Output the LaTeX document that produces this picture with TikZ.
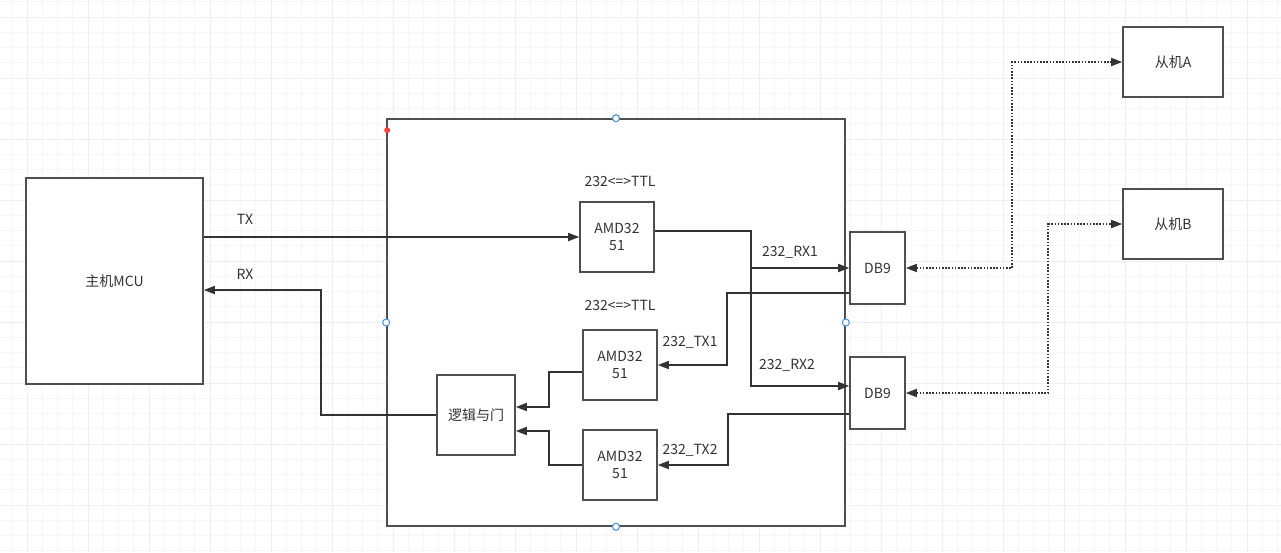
\documentclass[tikz,border=0pt]{standalone}
\usepackage{fontspec}
\setmainfont{Noto Sans CJK SC}
\usetikzlibrary{arrows.meta}
\definecolor{linec}{HTML}{333333}
\definecolor{boxc}{HTML}{4D4F53}
\definecolor{gridmin}{HTML}{F7F7F7}
\definecolor{gridmaj}{HTML}{EEEEEE}
\definecolor{handle}{HTML}{3B8FE8}
\tikzset{
  blk/.style = {rectangle, draw=boxc, fill=white, line width=1.6pt,
    inner sep=0pt, align=center, text=linec},% ordinary block
  blk_amd/.style = {blk, minimum width=74pt, minimum height=70pt},% AMD3251 chip
  blk_db/.style = {blk, minimum width=55pt, minimum height=72pt},% DB9 socket
  blk_sl/.style = {blk, minimum width=100pt, minimum height=70pt},% slave
  lbl/.style = {inner sep=0pt, text=linec},% wire label
  wire/.style = {draw=linec, line width=1.7pt, ->},% signal line
  link/.style = {wire, <->, dash pattern=on 1.6pt off 1.6pt},% cable
  gridlin/.style = {draw=gridmin, line width=1pt},
  gridlaj/.style = {draw=gridmaj, line width=1pt},
  hdl/.style = {draw=handle, fill=white, line width=1pt}
}

\begin{document}
\begin{tikzpicture}[x=1pt, y=-1pt, >={Triangle[length=11pt,width=8pt]},
  font=\fontsize{14}{17}\selectfont]
\useasboundingbox (0,0) rectangle (1281,552);
\fill[white] (0,0) rectangle (1281,552);
% background grid
\foreach \i in {0,...,83} \draw[gridlin] ({11.75+15.25*\i},0) -- ({11.75+15.25*\i},552);
\foreach \i in {0,...,36} \draw[gridlin] (0,{1.75+15.25*\i}) -- (1281,{1.75+15.25*\i});
\foreach \i in {0,...,20} \draw[gridlaj] ({27+61*\i},0) -- ({27+61*\i},552);
\foreach \i in {0,...,8} \draw[gridlaj] (0,{17+61*\i}) -- (1281,{17+61*\i});

\node [blk, minimum width=458pt, minimum height=407pt] (board) at (616,322.5) {};
\node [blk, minimum width=177pt, minimum height=206pt] (mcu) at (114.5,281) {主机MCU};
\node [blk_amd] (amdA) at (617,237) {AMD32\\51};
\node [blk_amd] (amdB) at (620,365) {AMD32\\51};
\node [blk_amd] (amdC) at (620,465) {AMD32\\51};
\node [blk, minimum width=78pt, minimum height=80pt] (gate) at (476,415) {逻辑与门};
\node [blk_db] (dbA) at (877.5,268) {DB9};
\node [blk_db] (dbB) at (877.5,393) {DB9};
\node [blk_sl] (slaveA) at (1173,62) {从机A};
\node [blk_sl] (slaveB) at (1173,224) {从机B};

\node [lbl] (ttlA) at (620,181) {232<=>TTL};
\node [lbl] (ttlB) at (620,305) {232<=>TTL};

% host side
\draw [wire] (amdA.west -| mcu.east) -- (amdA.west);
\draw [wire] (gate.west) -| ([xshift=117pt,yshift=-9pt]mcu.east) -- ([yshift=-9pt]mcu.east);
\node [lbl] (lbtx) at (245,219) {TX};
\node [lbl] (lbrx) at (245,274) {RX};

% receive lines
\draw [wire] ([yshift=6pt]amdA.east) -| ([xshift=-98pt]dbA.west) -- (dbA.west);
\draw [wire] ([yshift=6pt]amdA.east) -| ([xshift=-98pt,yshift=7pt]dbB.west) -- ([yshift=7pt]dbB.west);
\node [lbl] (lbrxa) at (790,252) {232\_RX1};
\node [lbl] (lbrxb) at (787,365) {232\_RX2};

% transmit lines
\draw [wire] ([yshift=-25pt]dbA.west) -| ([xshift=69pt]amdB.east) -- (amdB.east);
\draw [wire] ([yshift=-21pt]dbB.west) -| ([xshift=70pt]amdC.east) -- (amdC.east);
\node [lbl] (lbtxa) at (690,342) {232\_TX1};
\node [lbl] (lbtxb) at (690,450) {232\_TX2};

% into the gate
\draw [wire] ([yshift=-7pt]amdB.west) -| ([xshift=33pt,yshift=8pt]gate.east) -- ([yshift=8pt]gate.east);
\draw [wire] (amdC.west) -| ([xshift=33pt,yshift=-16pt]gate.east) -- ([yshift=-16pt]gate.east);

% cables to the slaves
\draw [link] (dbA.east) -| ([xshift=-110pt]slaveA.west) -- (slaveA.west);
\draw [link] (dbB.east) -| ([xshift=-74pt]slaveB.west) -- (slaveB.west);

% selection handles
\draw [hdl] (board.north) circle (3.5pt);
\draw [hdl] (board.south) circle (3.5pt);
\draw [hdl] (board.west) circle (3.5pt);
\draw [hdl] (board.east) circle (3.5pt);
\fill [red!75!white] ([xshift=1pt,yshift=-12pt]board.north west) circle (3pt);
\end{tikzpicture}
\end{document}
